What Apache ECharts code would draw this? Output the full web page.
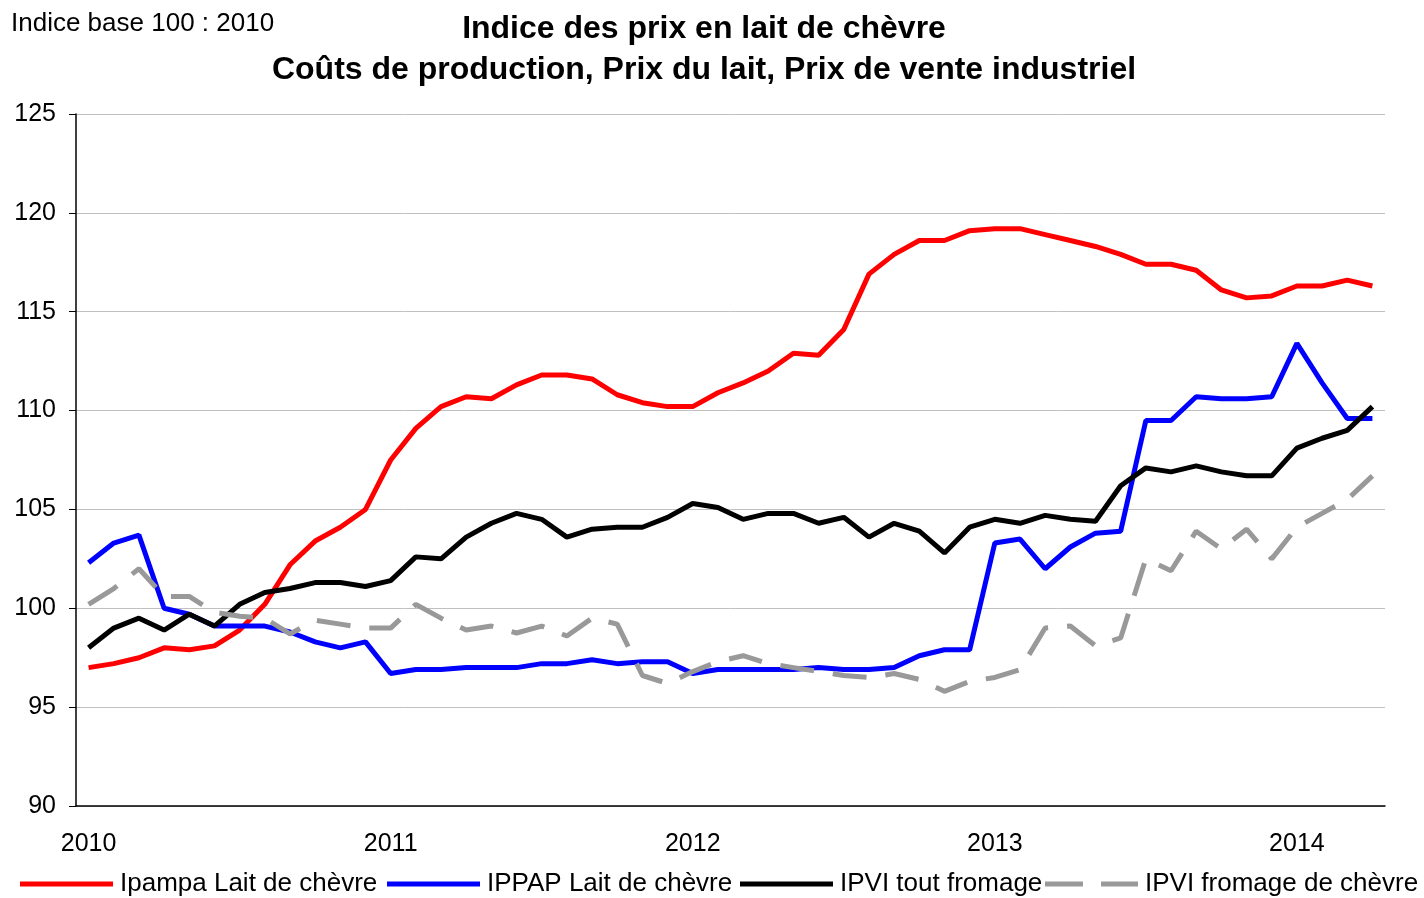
<!DOCTYPE html>
<html>
<head>
<meta charset="utf-8">
<script src="https://cdn.jsdelivr.net/npm/echarts@6/dist/echarts.min.js"></script>
<style>
  html, body { margin: 0; padding: 0; background: #fff; }
  #chart { width: 1424px; height: 898px; }
</style>
</head>
<body>
<div id="chart"></div>
<script>
var years = ['2010', '2011', '2012', '2013', '2014'];
var monthCount = 52; // Jan 2010 .. Apr 2014
var seriesNames = ['Ipampa Lait de chèvre', 'IPPAP Lait de chèvre', 'IPVI tout fromage', 'IPVI fromage de chèvre'];

var ipampa = [97.0, 97.2, 97.5, 98.0, 97.9, 98.1, 98.9, 100.2, 102.2, 103.4, 104.1, 105.0,
    107.5, 109.1, 110.2, 110.7, 110.6, 111.3, 111.8, 111.8, 111.6, 110.8, 110.4, 110.2,
    110.2, 110.9, 111.4, 112.0, 112.9, 112.8, 114.1, 116.9, 117.9, 118.6, 118.6, 119.1,
    119.2, 119.2, 118.9, 118.6, 118.3, 117.9, 117.4, 117.4, 117.1, 116.1, 115.7, 115.8,
    116.3, 116.3, 116.6, 116.3];
var ippap = [102.3, 103.3, 103.7, 100.0, 99.7, 99.1, 99.1, 99.1, 98.8, 98.3, 98.0, 98.3,
    96.7, 96.9, 96.9, 97.0, 97.0, 97.0, 97.2, 97.2, 97.4, 97.2, 97.3, 97.3,
    96.7, 96.9, 96.9, 96.9, 96.9, 97.0, 96.9, 96.9, 97.0, 97.6, 97.9, 97.9,
    103.3, 103.5, 102.0, 103.1, 103.8, 103.9, 109.5, 109.5, 110.7, 110.6, 110.6, 110.7,
    113.4, 111.4, 109.6, 109.6];
var ipviTout = [98.0, 99.0, 99.5, 98.9, 99.7, 99.1, 100.2, 100.8, 101.0, 101.3, 101.3, 101.1,
    101.4, 102.6, 102.5, 103.6, 104.3, 104.8, 104.5, 103.6, 104.0, 104.1, 104.1, 104.6,
    105.3, 105.1, 104.5, 104.8, 104.8, 104.3, 104.6, 103.6, 104.3, 103.9, 102.8, 104.1,
    104.5, 104.3, 104.7, 104.5, 104.4, 106.2, 107.1, 106.9, 107.2, 106.9, 106.7, 106.7,
    108.1, 108.6, 109.0, 110.2];
var ipviChevre = [100.2, 101.0, 102.0, 100.6, 100.6, 99.8, 99.6, 99.5, 98.7, 99.4, 99.2, 99.0,
    99.0, 100.2, 99.5, 98.9, 99.1, 98.75, 99.1, 98.6, 99.5, 99.2, 96.6, 96.2,
    96.8, 97.3, 97.6, 97.2, 97.0, 96.8, 96.6, 96.5, 96.7, 96.4, 95.8, 96.3,
    96.5, 96.9, 99.0, 99.1, 98.1, 98.5, 102.5, 101.9, 103.9, 103.0, 104.0, 102.5,
    104.1, 104.8, 105.5, 106.7];

var months = [];
for (var i = 0; i < monthCount; i++) {
    months.push(years[Math.floor(i / 12)] + '-' + (i % 12 + 1));
}

var font = 'Liberation Sans, Arial, sans-serif';
var solidIcon = 'path://M0,0H93V5H0Z';
var dashIcon = 'path://M0,0H38V5H0Z M56,0H93V5H56Z';
var legendLefts = [20, 387, 740, 1045];

function makeLegend(idx) {
    return {
        left: legendLefts[idx],
        top: 871,
        padding: 0,
        itemWidth: 93,
        itemHeight: 5,
        textStyle: { fontFamily: font, fontSize: 26, color: '#000', padding: [0, 0, 0, 2] },
        data: [{ name: seriesNames[idx], icon: idx === 3 ? dashIcon : solidIcon }]
    };
}

var chart = echarts.init(document.getElementById('chart'));
chart.setOption({
    animation: false,
    title: [{
        text: 'Indice des prix en lait de chèvre\nCoûts de production, Prix du lait, Prix de vente industriel',
        left: 704,
        top: 9,
        padding: 0,
        textAlign: 'center',
        textStyle: { fontFamily: font, fontSize: 32, fontWeight: 'bold', color: '#000', lineHeight: 41 }
    }, {
        text: 'Indice base 100 : 2010',
        left: 11,
        top: 11,
        padding: 0,
        textStyle: { fontFamily: font, fontSize: 26, fontWeight: 'normal', color: '#000' }
    }],
    legend: [makeLegend(0), makeLegend(1), makeLegend(2), makeLegend(3)],
    grid: { left: 76, right: 39, top: 114, bottom: 92 },
    xAxis: {
        type: 'category',
        data: months,
        boundaryGap: true,
        axisLine: { lineStyle: { color: '#000', width: 1.5 } },
        axisTick: {
            length: 7,
            lineStyle: { color: '#000' },
            interval: function (index) { return index % 12 === 0; }
        },
        axisLabel: {
            interval: function (index) { return index % 12 === 0; },
            formatter: function (v) { return v.split('-')[0]; },
            fontFamily: font, fontSize: 25, color: '#000', margin: 26
        },
        splitLine: { show: false }
    },
    yAxis: {
        type: 'value',
        min: 90,
        max: 125,
        interval: 5,
        axisLine: { show: true, lineStyle: { color: '#000', width: 1.5 } },
        axisTick: { show: true, length: 7, lineStyle: { color: '#000' } },
        axisLabel: { fontFamily: font, fontSize: 25, color: '#000', margin: 20 },
        splitLine: { lineStyle: { color: '#c0c0c0', width: 1 } }
    },
    series: [{
        name: seriesNames[0],
        type: 'line',
        data: ipampa,
        symbol: 'none',
        lineStyle: { color: '#ff0000', width: 5 },
        itemStyle: { color: '#ff0000' }
    }, {
        name: seriesNames[1],
        type: 'line',
        data: ippap,
        symbol: 'none',
        lineStyle: { color: '#0000ff', width: 5 },
        itemStyle: { color: '#0000ff' }
    }, {
        name: seriesNames[2],
        type: 'line',
        data: ipviTout,
        symbol: 'none',
        lineStyle: { color: '#000000', width: 5 },
        itemStyle: { color: '#000000' }
    }, {
        name: seriesNames[3],
        type: 'line',
        data: ipviChevre,
        symbol: 'none',
        lineStyle: { color: '#999999', width: 5, type: [34, 19], cap: 'butt' },
        itemStyle: { color: '#999999' }
    }]
});
</script>
</body>
</html>
